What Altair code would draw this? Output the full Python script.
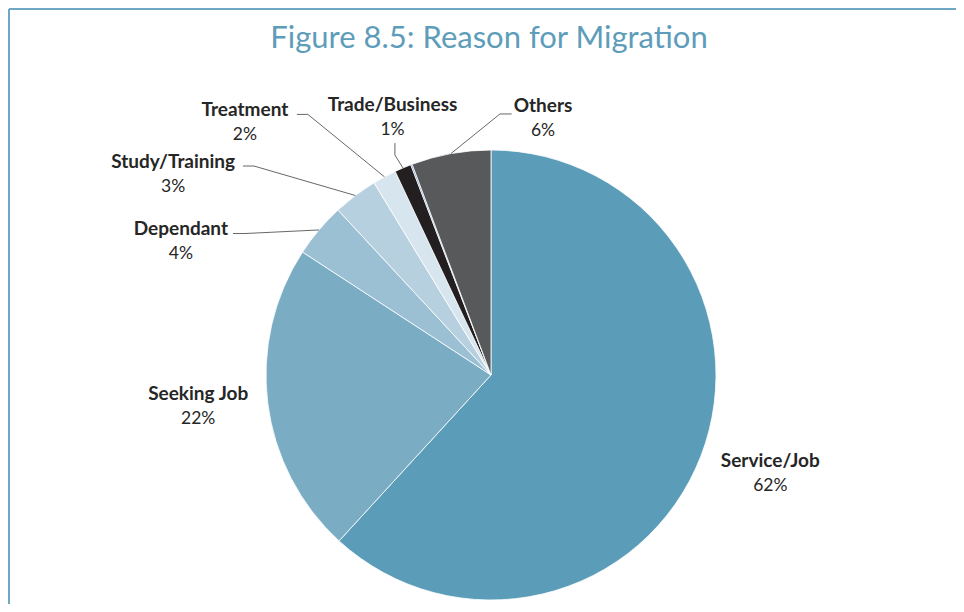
import math
import altair as alt
import pandas as pd

# ---- data ----
categories = ["Service/Job", "Seeking Job", "Dependant", "Study/Training",
              "Treatment", "Trade/Business", "Not stated", "Others"]
values = [61.8, 22.4, 3.9, 3.2, 1.7, 1.2, 0.1, 5.7]
pct_labels = ["62%", "22%", "4%", "3%", "2%", "1%", "", "6%"]
colors = ["#5B9CB8", "#7AACC4", "#9BC0D4", "#B6D0DF", "#D7E5EE",
          "#231F20", "#4F81BD", "#58595B"]

# ---- layout (style) ----
CX, CY, R = 483, 367, 225
# label anchor: (angle offset from slice middle in deg, radius px)
label_pos = {
    "Service/Job": (-1.9, 296), "Seeking Job": (1.05, 294.5),
    "Dependant": (-16.9, 337.5), "Study/Training": (-20.7, 375.7),
    "Treatment": (-16.0, 352.6), "Trade/Business": (2.1, 275.6),
    "Others": (21.7, 262.1),
}
# leader lines: elbow (angle deg, radius px) and start offset from elbow
leaders = {
    "Dependant": ((299.9, 283.8), (-12, 0)),
    "Study/Training": ((311.4, 316), (-11, 0)),
    "Treatment": ((324.9, 318.5), (-11, 0)),
    "Trade/Business": ((336.4, 240), (0, -12)),
    "Others": ((1.97, 261.2), (11.7, 0)),
}


def polar(a_deg, r):
    a = math.radians(a_deg)
    return CX + r * math.sin(a), CY - r * math.cos(a)


total = sum(values)
mids = {}
acc = 0.0
for c, v in zip(categories, values):
    mids[c] = (acc + v / 2) / total * 360
    acc += v

pie_df = pd.DataFrame({"category": categories, "value": values,
                       "idx": list(range(len(categories)))})

lab_rows = []
for c, p in zip(categories, pct_labels):
    if c not in label_pos:
        continue
    off, r = label_pos[c]
    x, y = polar(mids[c] + off, r)
    lab_rows.append({"x": x, "y": y - 12.5, "text": c, "kind": "name"})
    lab_rows.append({"x": x, "y": y + 12.5, "text": p, "kind": "pct"})
lab_df = pd.DataFrame(lab_rows)

line_rows = []
for c, ((ea, er), (dx, dy)) in leaders.items():
    ex, ey = polar(ea, er)
    px, py = polar(mids[c], R)
    line_rows += [
        {"cat": c, "o": 0, "x": ex + dx, "y": ey + dy},
        {"cat": c, "o": 1, "x": ex, "y": ey},
        {"cat": c, "o": 2, "x": px, "y": py},
    ]
line_df = pd.DataFrame(line_rows)

pie = alt.Chart(pie_df).mark_arc(outerRadius=R, stroke="white", strokeWidth=0.8).encode(
    theta=alt.Theta("value:Q", stack=True),
    color=alt.Color("category:N", scale=alt.Scale(domain=categories, range=colors), legend=None),
    order=alt.Order("idx:Q"),
    x=alt.value(CX), y=alt.value(CY),
)

lines = alt.Chart(line_df).mark_line(color="#404040", strokeWidth=0.8).encode(
    x=alt.X("x:Q", scale=None), y=alt.Y("y:Q", scale=None),
    detail="cat:N", order="o:Q",
)

names = alt.Chart(lab_df).transform_filter(alt.datum.kind == "name").mark_text(
    font="Lato", fontSize=19, fontWeight="bold", color="#262626", baseline="middle"
).encode(x=alt.X("x:Q", scale=None), y=alt.Y("y:Q", scale=None), text="text:N")

pcts = alt.Chart(lab_df).transform_filter(alt.datum.kind == "pct").mark_text(
    font="Lato", fontSize=17.5, color="#262626", baseline="middle"
).encode(x=alt.X("x:Q", scale=None), y=alt.Y("y:Q", scale=None), text="text:N")

one = pd.DataFrame({"t": ["Figure 8.5: Reason for Migration"]})
title = alt.Chart(one).mark_text(
    font="Lato", fontSize=31, color="#5E9DBA", baseline="middle"
).encode(x=alt.value(481), y=alt.value(31), text="t:N")

top_edge = alt.Chart(one).mark_rule(stroke="#6FA8C6", strokeWidth=2).encode(
    x=alt.value(1), x2=alt.value(948), y=alt.value(1)
)
left_edge = alt.Chart(one).mark_rule(stroke="#6FA8C6", strokeWidth=2).encode(
    x=alt.value(1), y=alt.value(1), y2=alt.value(596)
)

chart = alt.layer(top_edge, left_edge, pie, lines, names, pcts, title).properties(
    width=948, height=596, padding=0, autosize=alt.AutoSizeParams(type="none")
).configure_view(stroke=None)

chart.save("out.html", embed_options={"renderer": "svg", "actions": False})
